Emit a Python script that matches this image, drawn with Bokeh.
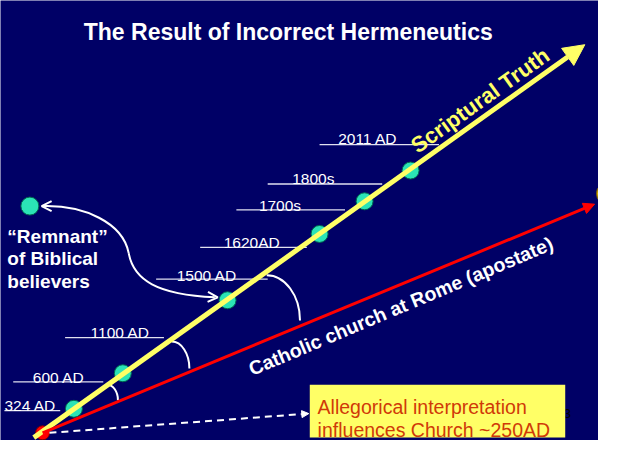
from bokeh.plotting import figure
from bokeh.models import Range1d, Arrow, NormalHead, OpenHead
from bokeh.core.properties import value
from bokeh.embed import file_html
from bokeh.resources import INLINE

# ---- data ----
title = "The Result of Incorrect Hermeneutics"
date_labels = ["324 AD", "600 AD", "1100 AD", "1500 AD", "1620AD", "1700s", "1800s", "2011 AD"]
dot_labels = ["324 AD", "600 AD", "1500 AD", "1620AD", "1700s", "1800s"]
remnant_lines = ["\u201cRemnant\u201d", "of Biblical", "believers"]
box_lines = ["Allegorical interpretation", "influences Church ~250AD"]
truth_label = "Scriptural Truth"
apostate_label = "Catholic church at Rome (apostate)"

# ---- layout (picture coordinates, y downward) ----
label_x = [14, 43, 102, 190, 238, 274, 308, 355]
label_y = [431, 401, 355, 295, 261, 222, 194, 153]
rule_x0 = [14, 23, 76, 169, 214, 251, 283, 336]
rule_x1 = [71, 115, 177, 283, 323, 362, 400, 458]
rule_y = [436, 406, 360, 299, 266, 227, 200, 159]
dot_x = [85, 135, 242, 336, 382, 429]
dot_y = [434, 397, 321, 252, 218, 186]
truth_start = (44, 464); truth_end = (607, 55)
rome_start = (53, 459); rome_end = (617, 221)
arc_x0 = [119, 185, 282]; arc_y0 = [409, 364, 295]
arc_x1 = [130, 203, 316]; arc_y1 = [425, 392, 342]

NAVY = "#000066"
YEL = "#FFFF66"
FONT = value("Liberation Sans")

p = figure(width=598, height=440, x_range=Range1d(10, 621), y_range=Range1d(467, 9),
           output_backend="svg", toolbar_location=None, min_border=0,
           background_fill_color=NAVY, border_fill_color=NAVY, outline_line_color=None)
p.axis.visible = False
p.grid.visible = False

# title
p.text(x=[304], y=[42], text=[title], text_font=FONT, text_font_style="bold",
       text_font_size="23px", text_color="white", text_align="center", text_baseline="alphabetic")

# underlines and date labels
p.segment(x0=rule_x0, y0=rule_y, x1=rule_x1, y1=rule_y, line_color="#E0E0F0", line_width=1.3)
p.text(x=label_x, y=label_y, text=date_labels, text_font=FONT, text_font_size="15.5px",
       text_color="white", text_align="left", text_baseline="alphabetic")

# angle arcs
k = 0.55
cx0 = [a + k * (b - a) for a, b in zip(arc_x0, arc_x1)]
cy1 = [b - k * (b - a) for a, b in zip(arc_y0, arc_y1)]
p.bezier(x0=arc_x0, y0=arc_y0, x1=arc_x1, y1=arc_y1, cx0=cx0, cy0=arc_y0, cx1=arc_x1, cy1=cy1,
         line_color="white", line_width=2)

# yellow truth arrow
p.add_layout(Arrow(x_start=truth_start[0], y_start=truth_start[1], x_end=truth_end[0], y_end=truth_end[1],
                   line_color=YEL, line_width=5,
                   end=NormalHead(size=21, fill_color=YEL, line_color=YEL, line_width=1)))
# red apostate arrow
p.add_layout(Arrow(x_start=rome_start[0], y_start=rome_start[1], x_end=rome_end[0], y_end=rome_end[1],
                   line_color="#FF0000", line_width=3,
                   end=NormalHead(size=11, fill_color="#FF0000", line_color="#FF0000", line_width=1)))

# cut-off gold dot at right edge
p.ellipse(x=[629], y=[210], width=20, height=22, fill_color="#D4B000", line_color="#806000")

# dashed white arrow
p.add_layout(Arrow(x_start=60, y_start=459, x_end=325, y_end=439, line_color="white", line_width=2,
                   line_dash="7 5", end=NormalHead(size=7, fill_color="white", line_color="white")))

# timeline dots
p.scatter(x=dot_x, y=dot_y, size=17, marker="circle", fill_color="#2BE3B6", line_color="#006650", line_width=1)

# red origin dot
p.scatter(x=[rome_start[0]], y=[rome_start[1]], size=14, marker="circle", fill_color="#FF0000",
          line_color="#800000", line_width=1)

# remnant dot and S-curve arrow
p.scatter(x=[40], y=[223], size=18, marker="circle", fill_color="#2BE3B6", line_color="#006650", line_width=1)
p.bezier(x0=[54, 141], y0=[223, 272], x1=[141, 229], y1=[272, 318],
         cx0=[95, 146], cy0=[222, 300], cx1=[135, 170], cy1=[240, 315],
         line_color="white", line_width=2)
p.add_layout(Arrow(x_start=64, y_start=223, x_end=52, y_end=223, line_alpha=0,
                   end=OpenHead(size=10, line_color="white", line_width=2)))
p.add_layout(Arrow(x_start=220, y_start=317.5, x_end=232, y_end=318, line_alpha=0,
                   end=OpenHead(size=10, line_color="white", line_width=2)))

p.text(x=[17, 17, 17], y=[255, 278, 301], text=remnant_lines, text_font=FONT, text_font_style="bold",
       text_font_size="19px", text_color="white", text_align="left", text_baseline="alphabetic")

# rotated labels
p.text(x=[500], y=[113], text=[truth_label], angle=35.5, angle_units="deg", text_font=FONT,
       text_font_style="bold", text_font_size="22px", text_color=YEL, text_align="center",
       text_baseline="alphabetic")
p.text(x=[419], y=[327], text=[apostate_label], angle=22.8, angle_units="deg", text_font=FONT,
       text_font_style="bold", text_font_size="19.5px", text_color="white", text_align="center",
       text_baseline="alphabetic")

# slide number (partly hidden) and yellow note box
p.text(x=[593], y=[439], text=["3"], text_font=FONT, text_font_size="13px", text_color="black",
       text_align="right", text_baseline="alphabetic")
p.quad(left=[326], right=[587], top=[409], bottom=[464], fill_color=YEL, line_color=None)
p.text(x=[334, 334], y=[432, 456], text=box_lines, text_font=FONT, text_font_size="19.5px",
       text_color="#D03A08", text_align="left", text_baseline="alphabetic")

open("out.html", "w").write(file_html(p, INLINE))
